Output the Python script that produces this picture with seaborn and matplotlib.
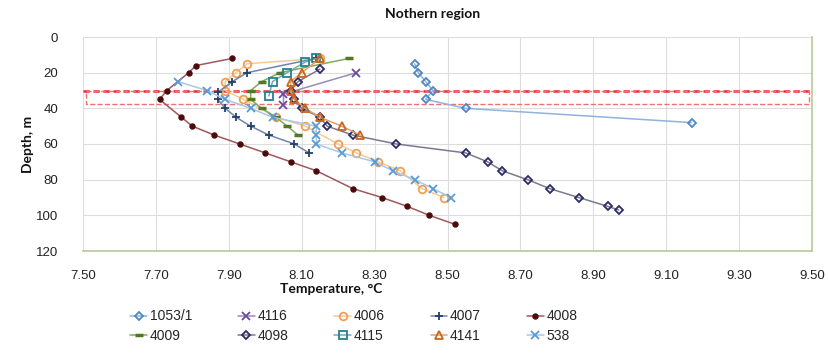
import seaborn as sns
import matplotlib.pyplot as plt

# temperature (C) and depth (m) for every well
d_1053 = [15, 20, 25, 30, 35, 40, 48]
t_1053 = [8.41, 8.42, 8.44, 8.46, 8.44, 8.55, 9.17]

d_4116 = [20, 32, 38]
t_4116 = [8.25, 8.05, 8.05]

d_4006 = [12, 15, 20, 25, 30, 35, 45, 50, 60, 65, 70, 75, 85, 90]
t_4006 = [8.15, 7.95, 7.92, 7.89, 7.89, 7.94, 8.03, 8.11, 8.20, 8.25, 8.31, 8.37, 8.43, 8.49]

d_4007 = [12, 20, 25, 31, 35, 40, 45, 50, 55, 60, 65]
t_4007 = [8.14, 7.95, 7.91, 7.87, 7.87, 7.89, 7.92, 7.96, 8.01, 8.08, 8.12]

d_4008 = [12, 16, 20, 30, 35, 45, 50, 55, 60, 65, 70, 75, 85, 90, 95, 100, 105]
t_4008 = [7.91, 7.81, 7.79, 7.73, 7.71, 7.77, 7.80, 7.86, 7.93, 8.00, 8.07, 8.14, 8.24, 8.32, 8.39, 8.45, 8.52]

d_4009 = [12, 20, 25, 30, 35, 40, 45, 50, 55]
t_4009 = [8.23, 8.04, 7.99, 7.96, 7.96, 7.99, 8.03, 8.06, 8.09]

d_4098 = [18, 25, 30, 35, 40, 45, 50, 55, 60, 65, 70, 75, 80, 85, 90, 95, 97]
t_4098 = [8.15, 8.09, 8.07, 8.08, 8.10, 8.15, 8.17, 8.24, 8.36, 8.55, 8.61, 8.65, 8.72, 8.78, 8.86, 8.94, 8.97]

d_4115 = [12, 14, 20, 25, 33]
t_4115 = [8.14, 8.11, 8.06, 8.02, 8.01]

d_4141 = [12, 20, 25, 30, 35, 40, 45, 50, 55]
t_4141 = [8.15, 8.10, 8.07, 8.07, 8.08, 8.11, 8.15, 8.21, 8.26]

d_538 = [25, 30, 35, 40, 45, 50, 55, 60, 65, 70, 75, 80, 85, 90]
t_538 = [7.76, 7.84, 7.89, 7.96, 8.02, 8.14, 8.14, 8.14, 8.21, 8.30, 8.35, 8.41, 8.46, 8.51]

# red dashed depth band
band = [30, 37.5]

x_ticks = [7.50, 7.70, 7.90, 8.10, 8.30, 8.50, 8.70, 8.90, 9.10, 9.30, 9.50]
y_ticks = [0, 20, 40, 60, 80, 100, 120]

sns.set_theme(style="whitegrid")
plt.rcParams['font.family'] = ['Liberation Sans Narrow', 'Liberation Sans', 'DejaVu Sans']

fig = plt.figure(figsize=(8.29, 3.59), dpi=100)
ax = fig.add_axes([83 / 829, 1 - 251 / 359, 729 / 829, 214 / 359])

# label, temps, depths, color, marker, line color
wells = [
    ("1053/1", t_1053, d_1053, "#4f86c6", "D", "#8fb3dc"),
    ("4116", t_4116, d_4116, "#6a4c9c", "x", "#9a8cb8"),
    ("4006", t_4006, d_4006, "#f0a050", "o", "#f6c99a"),
    ("4007", t_4007, d_4007, "#25406b", "+", "#6f86a8"),
    ("4008", t_4008, d_4008, "#4a0c0c", "o", "#a0585c"),
    ("4009", t_4009, d_4009, "#4f7a22", "_", "#86a860"),
    ("4098", t_4098, d_4098, "#2d2b63", "D", "#7a7a8c"),
    ("4115", t_4115, d_4115, "#24808f", "s", "#78a8b4"),
    ("4141", t_4141, d_4141, "#c8661c", "^", "#e0a070"),
    ("538", t_538, d_538, "#5b9bd5", "x", "#a8c8e8"),
]

for name, t, d, col, mk, lc in wells:
    filled = name == "4008"
    size = 3.3 if filled else (4.5 if mk == "D" else 5.5)
    kw = dict(marker=mk, markersize=size,
              markerfacecolor=col if filled else "none",
              markeredgecolor=col,
              markeredgewidth=2.5 if mk == "_" else 1.3)
    sns.lineplot(x=t, y=d, sort=False, estimator=None, color=lc, lw=1.1,
                 label=name, ax=ax, **kw)

ax.axhline(band[0], color="#e8262b", ls=(0, (2.5, 1.5)), lw=1.8, zorder=1)
ax.axhspan(band[0], band[1], xmin=0.004, xmax=0.996, fill=False,
           ec="#f07070", ls="--", lw=1.0, zorder=1)

ax.set_xlim(7.5, 9.5)
ax.set_ylim(120, 0)
ax.set_xticks(x_ticks)
ax.set_xticklabels([f"{v:.2f}" for v in x_ticks])
ax.set_yticks(y_ticks)
ax.tick_params(axis="x", labelsize=9.5, colors="#222222", pad=8)
ax.tick_params(axis="y", labelsize=9.5, colors="#222222", pad=12)
ax.grid(color="#dddddd", lw=0.8)
ax.set_xlabel("")
ax.set_ylabel("")
for s in ["top", "left"]:
    ax.spines[s].set_visible(False)
for s in ["bottom", "right"]:
    ax.spines[s].set_color("#b5c99a")
    ax.spines[s].set_linewidth(1.2)

bold = dict(family=["Lato", "DejaVu Sans"], fontweight="bold", fontsize=10, color="#111111")
fig.text(433 / 829, 1 - 14 / 359, "Nothern region", ha="center", va="center", **bold)
fig.text(331 / 829, 1 - 289 / 359, "Temperature, °C", ha="center", va="center", **bold)
fig.text(28 / 829, 1 - 144 / 359, "Depth, m", ha="center", va="center", rotation=90, **bold)

handles, labels = ax.get_legend_handles_labels()
ax.get_legend().remove()
order = [0, 5, 1, 6, 2, 7, 3, 8, 4, 9]
fig.legend([handles[i] for i in order], [labels[i] for i in order],
           ncol=5, loc="upper left", bbox_to_anchor=(118 / 829, 1 - 297 / 359),
           frameon=False, fontsize=10, handlelength=1.2, handletextpad=0.2,
           columnspacing=3.3, labelspacing=0.4)

fig.savefig("out.png", dpi=100)
